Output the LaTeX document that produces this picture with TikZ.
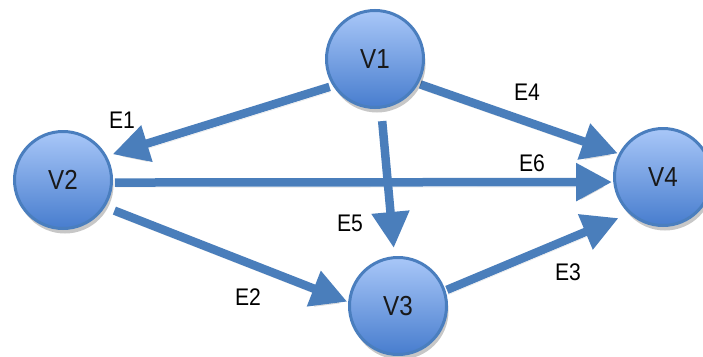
\documentclass[tikz,border=0pt]{standalone}
\usepackage{fontspec}
\setmainfont{Liberation Sans}[FakeStretch=0.88]
\usetikzlibrary{arrows.meta,shadows,backgrounds}
\definecolor{edgeblue}{RGB}{74,126,187}
\definecolor{circtop}{RGB}{168,199,248}
\definecolor{circbot}{RGB}{72,125,206}
\definecolor{circline}{RGB}{74,126,190}
\tikzset{
  vertex/.style={circle, minimum size=97pt, inner sep=0pt, outer sep=0pt,
    draw=circline, line width=3pt, top color=circtop, bottom color=circbot,
    drop shadow={shadow xshift=2pt, shadow yshift=-5pt, opacity=0.22, fill=black},
    font=\fontsize{27.5}{30}\selectfont, text=black!90},
  edge/.style={draw=edgeblue, line width=8.5pt,
    -{Triangle[width=36pt,length=36pt]},
    preaction={draw=black, draw opacity=0.10, fill opacity=0.10,
      transform canvas={shift={(1pt,-5pt)}}}},
  elabel/.style={font=\fontsize{24}{26}\selectfont, text=black, inner sep=0pt}
}
\begin{document}
\begin{tikzpicture}[x=1pt,y=-1pt]
\useasboundingbox (0,0) rectangle (703,356);
\node[vertex] (V1) at (375,59) {V1};
\node[vertex] (V2) at (63,180) {V2};
\node[vertex] (V3) at (398,306) {V3};
\node[vertex] (V4) at (663,177) {V4};
\begin{pgfonlayer}{background}
\fill[white] (0,0) rectangle (703,356);
\draw[edge, shorten <=5pt, shorten >=7.5pt] (V1.213) -- (V2.29);
\draw[edge, shorten <=3.5pt, shorten >=2.5pt] (V1.-30) -- (V4.152);
\draw[edge, shorten <=3.5pt, shorten >=2.7pt] (V2.-3) -- (V4.186);
\draw[edge, shorten <=14pt, shorten >=9.7pt] (V1.-83.6) -- (V3.94.9);
\draw[edge, shorten <=11.5pt, shorten >=2.5pt] (V2.-33.4) -- (V3.176.6);
\draw[edge, shorten <=3pt, shorten >=13pt] (V3.18.1) -- (V4.228.3);
\end{pgfonlayer}
\node[elabel] (L1) at (122,120) {E1};
\node[elabel] (L4) at (527,92) {E4};
\node[elabel] (L6) at (532,163) {E6};
\node[elabel] (L5) at (350,223) {E5};
\node[elabel] (L2) at (248,297) {E2};
\node[elabel] (L3) at (568,272) {E3};
\end{tikzpicture}
\end{document}
